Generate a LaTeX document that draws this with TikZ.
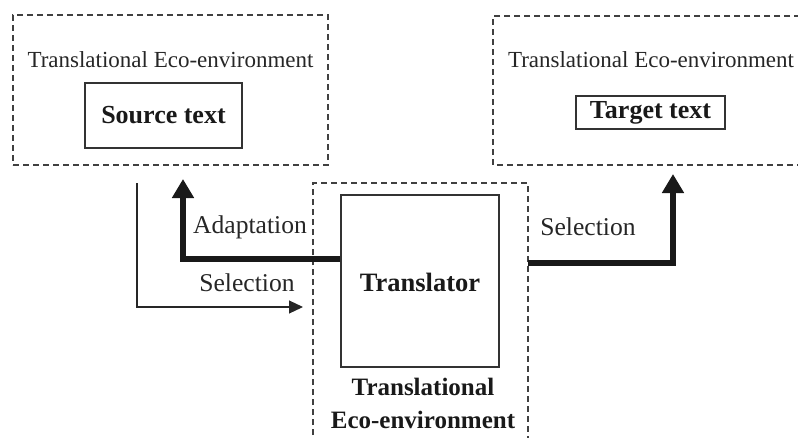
\documentclass[tikz,border=0pt]{standalone}
\usepackage{fontspec}
\setmainfont{Liberation Serif}
\usetikzlibrary{arrows.meta}
\begin{document}
\begin{tikzpicture}[x=1pt,y=-1pt,
  envbox/.style={draw=black!75, line width=1.1pt, dash pattern=on 6pt off 4pt},
  solidbox/.style={draw=black!80, line width=1.3pt, inner sep=0pt},
  ecotext/.style={inner sep=0pt, text=black!85, font=\fontsize{23}{26}\selectfont},
  lbl/.style={inner sep=0pt, text=black!85, font=\fontsize{25.6}{28}\selectfont},
  boldtext/.style={inner sep=0pt, text=black!90, font=\fontsize{26}{28}\selectfont\bfseries},
  thinarrow/.style={draw=black!85, line width=1.2pt, -{Triangle[width=13pt,length=14pt]}},
  thickarrow/.style={draw=black!90, line width=6pt, -{Triangle[width=21pt,length=19pt]}}
]
\useasboundingbox (0,0) rectangle (798,437);
\clip (0,0) rectangle (798,437);
% left environment
\node[envbox, inner sep=0pt, minimum width=315pt, minimum height=150pt] (leftenv) at (170.5,90) {};
\node[ecotext] (lefteco) at (170.5,60) {Translational Eco-environment};
\node[solidbox, minimum width=157pt, minimum height=65pt] (source) at (163.5,115.5) {};
\node[boldtext] (sourcelbl) at (source.center) {Source text};
% right environment (right side cut off)
\coordinate (rbl) at (493,165);
\coordinate (rtl) at (493,16);
\coordinate (rtr) at (810,16);
\coordinate (rbr) at (810,165);
\draw[envbox] (rtr) -- (rtl) -- (rbl) -- (rbr);
\node[ecotext] (righteco) at (651,60) {Translational Eco-environment};
\node[solidbox, minimum width=149pt, minimum height=33pt, line width=1.1pt] (target) at (650.5,112.5) {};
\node[boldtext] (targetlbl) at (target.center) {Target text};
% middle environment (bottom open)
\coordinate (mbl) at (313,445);
\coordinate (mtl) at (313,183);
\coordinate (mtr) at (528,183);
\coordinate (mbr) at (528,445);
\draw[envbox] (mbl) -- (mtl) -- (mtr) -- (mbr);
\node[solidbox, minimum width=158pt, minimum height=172pt] (translator) at (420,281) {};
\node[boldtext, font=\fontsize{26.5}{28}\selectfont\bfseries] (translatorlbl) at (420,282) {Translator};
\node[boldtext, font=\fontsize{25}{28}\selectfont\bfseries] (midenv1) at (423,387) {Translational};
\node[boldtext, font=\fontsize{25}{28}\selectfont\bfseries] (midenv2) at (423,420) {Eco-environment};
% connectors
\coordinate (selstart) at (137,183);
\coordinate (selcorner) at (137,307);
\coordinate (selend) at (303,307);
\draw[thinarrow] (selstart) -- (selcorner) -- (selend);
\coordinate (adstart) at (translator.west |- 0,259);
\coordinate (adcorner) at (183,259);
\coordinate (adend) at (183,179);
\draw[thickarrow] (adstart) -- (adcorner) -- (adend);
\coordinate (rsstart) at (528,263);
\coordinate (rscorner) at (673,263);
\coordinate (rsend) at (673,174);
\draw[thickarrow] (rsstart) -- (rscorner) -- (rsend);
% labels
\node[lbl] (adlbl) at (250,227) {Adaptation};
\node[lbl] (sellbl) at (247,283) {Selection};
\node[lbl] (rsellbl) at (588,227) {Selection};
\end{tikzpicture}
\end{document}
